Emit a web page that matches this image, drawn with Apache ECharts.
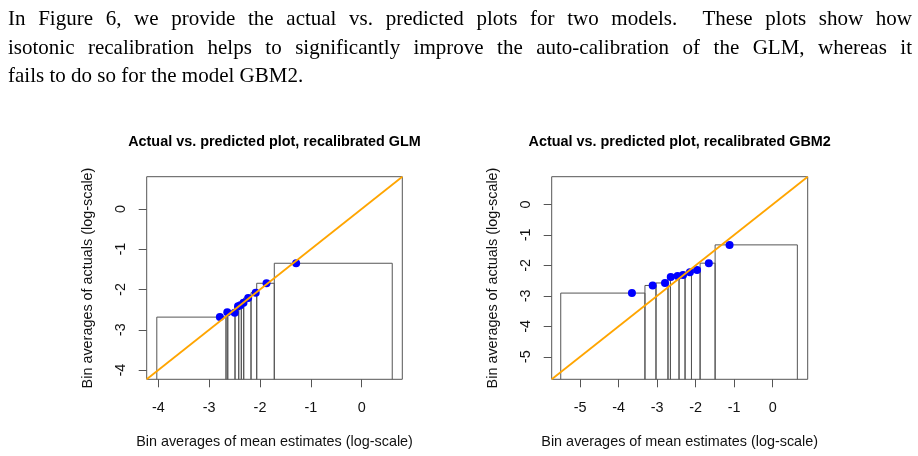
<!DOCTYPE html>
<html>
<head>
<meta charset="utf-8">
<script src="https://cdn.jsdelivr.net/npm/echarts@6.0.0/dist/echarts.min.js"></script>
<style>
  html, body { margin: 0; padding: 0; background: #fff; }
  #wrap { position: relative; width: 918px; height: 456px; overflow: hidden; }
  #chart { position: absolute; left: 0; top: 0; width: 918px; height: 456px; }
  #text {
    position: absolute; left: 8px; top: 4px; width: 904px; z-index: 2;
    font-family: "Liberation Serif", serif; font-size: 21px; line-height: 28.5px; color: #000;
  }
  #text .j { text-align: justify; text-align-last: justify; }
</style>
</head>
<body>
<div id="wrap">
  <div id="chart"></div>
  <div id="text">
    <div class="j">In Figure 6, we provide the actual vs. predicted plots for two models. &nbsp;These plots show how</div>
    <div class="j">isotonic recalibration helps to significantly improve the auto-calibration of the GLM, whereas it</div>
    <div>fails to do so for the model GBM2.</div>
  </div>
</div>
<script>
// axis extents (log-scale) and tick labels
const rangeGLM = [-4.23, 0.80]
const rangeGBM = [-5.74, 0.91]
const ticksGLM = [-4, -3, -2, -1, 0]
const ticksGBM = [-5, -4, -3, -2, -1, 0]

// recalibrated GLM: bin edges on the predicted axis, bin averages
const edgesGLM = [-4.031, -2.669, -2.635, -2.492, -2.419, -2.368, -2.321, -2.177, -2.065, -1.719, 0.602]
const predGLM = [-2.790, -2.644, -2.498, -2.433, -2.386, -2.325, -2.233, -2.085, -1.872, -1.289]
const actualGLM = [-2.686, -2.567, -2.576, -2.418, -2.393, -2.327, -2.211, -2.079, -1.846, -1.349]

// recalibrated GBM2
const edgesGBM = [-5.505, -3.318, -3.031, -2.719, -2.656, -2.432, -2.276, -2.109, -1.885, -1.495, 0.641]
const predGBM = [-3.656, -3.117, -2.797, -2.648, -2.470, -2.328, -2.150, -1.964, -1.659, -1.120]
const actualGBM = [-2.910, -2.660, -2.578, -2.385, -2.350, -2.320, -2.228, -2.152, -1.928, -1.328]

const FONT = '"Liberation Sans", Arial, sans-serif'
const FS = 14.4
const INK = '#555'

function binRows(edges, actual) {
  return actual.map((y, i) => [edges[i], edges[i + 1], y])
}

function pointRows(pred, actual) {
  return pred.map((x, i) => [x, actual[i]])
}

function renderBin(params, api) {
  const cs = params.coordSys
  const bottom = cs.y + cs.height
  const a = api.coord([api.value(0), api.value(2)])
  const b = api.coord([api.value(1), api.value(2)])
  return {
    type: 'polyline',
    shape: { points: [[a[0], bottom], [a[0], a[1]], [b[0], b[1]], [b[0], bottom]] },
    style: { stroke: INK, lineWidth: 1, fill: null },
  }
}

function xAxisFor(idx, range, ticks) {
  return {
    type: 'value', gridIndex: idx, min: range[0], max: range[1],
    name: 'Bin averages of mean estimates (log-scale)',
    nameLocation: 'middle', nameGap: 56,
    nameTextStyle: { fontFamily: FONT, fontSize: FS, color: '#111' },
    axisLine: { show: false, onZero: false },
    axisTick: { show: true, length: 8, customValues: ticks, lineStyle: { color: INK } },
    axisLabel: { customValues: ticks, margin: 22, fontFamily: FONT, fontSize: FS, color: '#111' },
    splitLine: { show: false },
  }
}

function yAxisFor(idx, range, ticks) {
  return {
    type: 'value', gridIndex: idx, min: range[0], max: range[1],
    name: 'Bin averages of actuals (log-scale)',
    nameLocation: 'middle', nameGap: 52,
    nameTextStyle: { fontFamily: FONT, fontSize: FS, color: '#111' },
    axisLine: { show: false, onZero: false },
    axisTick: { show: true, length: 8, customValues: ticks, lineStyle: { color: INK } },
    axisLabel: { customValues: ticks, rotate: 90, margin: 19, fontFamily: FONT, fontSize: FS, color: '#111' },
    splitLine: { show: false },
  }
}

function seriesFor(idx, range, edges, pred, actual) {
  return [
    {
      type: 'custom', xAxisIndex: idx, yAxisIndex: idx,
      data: binRows(edges, actual), renderItem: renderBin, silent: true,
    },
    {
      type: 'line', xAxisIndex: idx, yAxisIndex: idx,
      data: [[range[0], range[0]], [range[1], range[1]]],
      showSymbol: false, silent: true,
      lineStyle: { color: '#FFA500', width: 1.8 },
    },
    {
      type: 'scatter', xAxisIndex: idx, yAxisIndex: idx,
      data: pointRows(pred, actual), symbolSize: 8,
      itemStyle: { color: '#0000FF', opacity: 1 },
    },
  ]
}

const chart = echarts.init(document.getElementById('chart'), null, { renderer: 'canvas' })
chart.setOption({
  animation: false,
  backgroundColor: '#fff',
  title: [
    {
      text: 'Actual vs. predicted plot, recalibrated GLM', left: 274.5, top: 135, textAlign: 'center', padding: 0,
      textStyle: { fontFamily: FONT, fontSize: FS, fontWeight: 'bold', color: '#000' },
    },
    {
      text: 'Actual vs. predicted plot, recalibrated GBM2', left: 679.7, top: 135, textAlign: 'center', padding: 0,
      textStyle: { fontFamily: FONT, fontSize: FS, fontWeight: 'bold', color: '#000' },
    },
  ],
  grid: [
    { left: 146.7, top: 176.7, width: 255.6, height: 202.6, show: true, borderColor: INK, borderWidth: 1, backgroundColor: 'transparent' },
    { left: 551.7, top: 176.7, width: 256, height: 202.6, show: true, borderColor: INK, borderWidth: 1, backgroundColor: 'transparent' },
  ],
  xAxis: [xAxisFor(0, rangeGLM, ticksGLM), xAxisFor(1, rangeGBM, ticksGBM)],
  yAxis: [yAxisFor(0, rangeGLM, ticksGLM), yAxisFor(1, rangeGBM, ticksGBM)],
  series: [
    ...seriesFor(0, rangeGLM, edgesGLM, predGLM, actualGLM),
    ...seriesFor(1, rangeGBM, edgesGBM, predGBM, actualGBM),
  ],
})
</script>
</body>
</html>
